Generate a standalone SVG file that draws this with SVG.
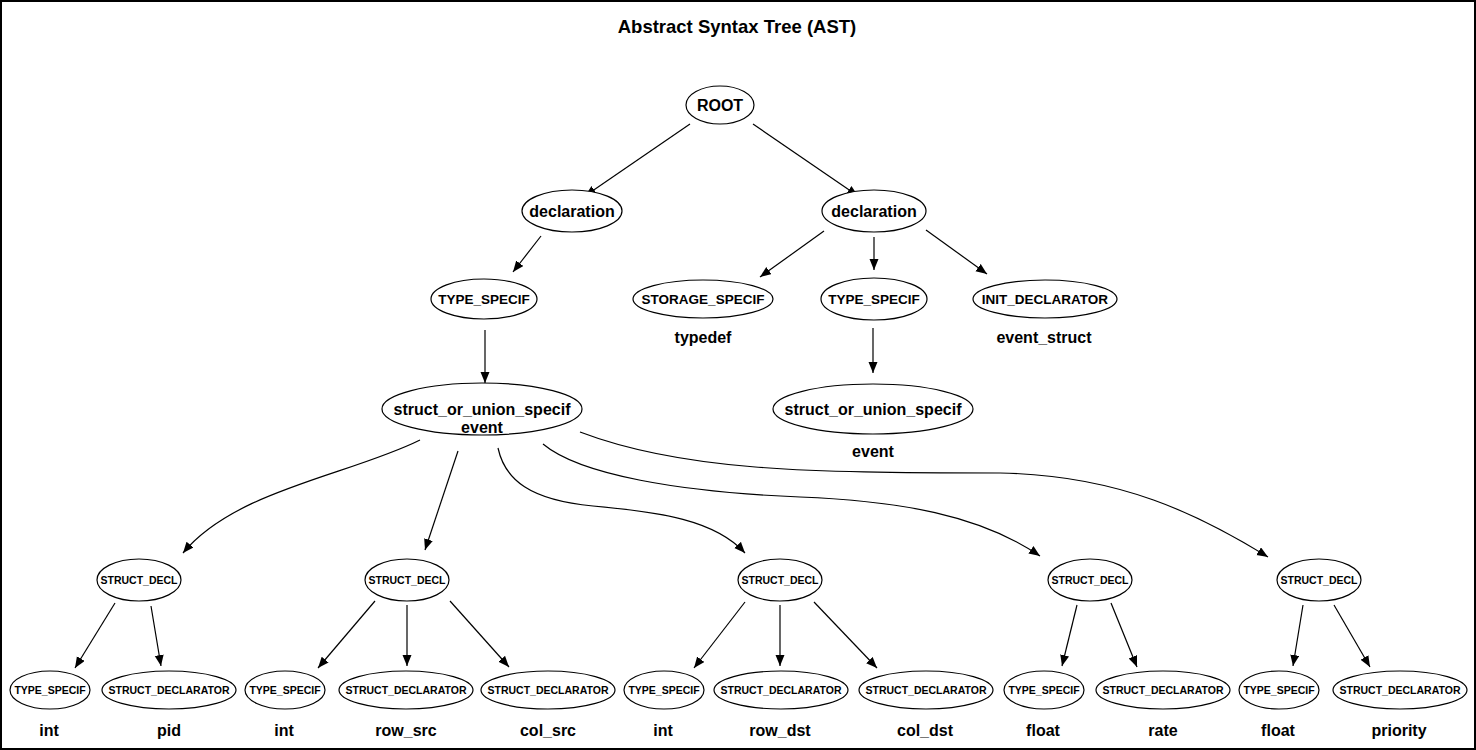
<svg xmlns="http://www.w3.org/2000/svg" width="1476" height="750" viewBox="0 0 1476 750">
  <defs>
    <marker id="arrow" markerUnits="userSpaceOnUse" markerWidth="12" markerHeight="10" refX="11" refY="4.5" orient="auto">
      <path d="M0,0 L11,4.5 L0,9 Z" fill="#000"/>
    </marker>
  </defs>
  <style>
    .node ellipse { fill: #fff; stroke: #000; stroke-width: 1.2; }
    text { font-family: "Liberation Sans", Arial, Helvetica, sans-serif; font-weight: bold; fill: #000; text-anchor: middle; }
    .big { font-size: 16px; }
    .mid { font-size: 13.5px; }
    .small { font-size: 10.5px; }
    .title { font-size: 18.5px; }
    .edges path { fill: none; stroke: #000; stroke-width: 1.2; marker-end: url(#arrow); }
  </style>

  <rect x="1" y="1" width="1474" height="748" fill="#fff" stroke="#000" stroke-width="2"/>
  <text class="title" x="737" y="33">Abstract Syntax Tree (AST)</text>

  <!-- connectors -->
  <g class="edges">
    <path d="M690,124 L585,196"/>
    <path d="M753,124 L858,196"/>
    <path d="M541,236 L513,272"/>
    <path d="M485,330 L485,383"/>
    <path d="M824,231 L760,277"/>
    <path d="M874,237 L874,270"/>
    <path d="M926,230 L987,274"/>
    <path d="M873,328 L873,373"/>

    <path d="M420,440 C350,475 235,490 183,553"/>
    <path d="M458,451 L425,550"/>
    <path d="M498,448 C505,480 530,500 593,506 C660,512 715,520 745,553"/>
    <path d="M543,444 C580,475 680,492 800,497 C900,501 980,515 1040,556"/>
    <path d="M580,432 C680,470 800,473 1000,473 C1120,475 1200,515 1268,557"/>

    <path d="M115,603 L75,668"/>
    <path d="M151,606 L161,666"/>
    <path d="M375,601 L318,668"/>
    <path d="M407,605 L407,666"/>
    <path d="M450,601 L509,667"/>
    <path d="M745,602 L694,668"/>
    <path d="M780,605 L780,666"/>
    <path d="M814,602 L877,668"/>
    <path d="M1077,605 L1062,666"/>
    <path d="M1111,603 L1137,667"/>
    <path d="M1303,605 L1293,666"/>
    <path d="M1334,605 L1370,667"/>
  </g>

  <!-- upper tree -->
  <g id="root" class="node"><ellipse cx="720" cy="105" rx="34" ry="19"/><text class="big" x="720" y="111">ROOT</text></g>
  <g id="decl_left" class="node"><ellipse cx="572" cy="211" rx="50" ry="21"/><text class="big" x="572" y="217">declaration</text></g>
  <g id="decl_right" class="node"><ellipse cx="874" cy="211" rx="52" ry="21"/><text class="big" x="874" y="217">declaration</text></g>
  <g id="type_specif_left" class="node"><ellipse cx="484" cy="299" rx="53" ry="20"/><text class="mid" x="484" y="304">TYPE_SPECIF</text></g>
  <g id="storage_specif" class="node"><ellipse cx="703" cy="299" rx="70" ry="19"/><text class="mid" x="703" y="304">STORAGE_SPECIF</text><text class="big" x="703" y="343">typedef</text></g>
  <g id="type_specif_right" class="node"><ellipse cx="874" cy="299" rx="53" ry="21"/><text class="mid" x="874" y="304">TYPE_SPECIF</text></g>
  <g id="init_declarator" class="node"><ellipse cx="1045" cy="299" rx="72" ry="19"/><text class="mid" x="1045" y="304">INIT_DECLARATOR</text><text class="big" x="1044" y="343">event_struct</text></g>
  <g id="sou_right" class="node"><ellipse cx="873" cy="409" rx="100" ry="25"/><text class="big" x="873" y="415">struct_or_union_specif</text><text class="big" x="873" y="457">event</text></g>
  <g id="sou_left" class="node"><ellipse cx="482" cy="409" rx="100" ry="26"/><text class="big" x="482" y="415">struct_or_union_specif</text><text class="big" x="482" y="433">event</text></g>

  <!-- struct declarations -->
  <g id="struct_decl_1" class="node"><ellipse cx="139" cy="580" rx="42" ry="21"/><text class="small" x="139" y="584">STRUCT_DECL</text></g>
  <g id="struct_decl_2" class="node"><ellipse cx="407" cy="580" rx="42" ry="21"/><text class="small" x="407" y="584">STRUCT_DECL</text></g>
  <g id="struct_decl_3" class="node"><ellipse cx="780" cy="580" rx="42" ry="21"/><text class="small" x="780" y="584">STRUCT_DECL</text></g>
  <g id="struct_decl_4" class="node"><ellipse cx="1090" cy="580" rx="42" ry="21"/><text class="small" x="1090" y="584">STRUCT_DECL</text></g>
  <g id="struct_decl_5" class="node"><ellipse cx="1319" cy="580" rx="42" ry="21"/><text class="small" x="1319" y="584">STRUCT_DECL</text></g>

  <!-- leaves -->
  <g id="ts_1" class="node"><ellipse cx="50" cy="690" rx="40" ry="19"/><text class="small" x="50" y="694">TYPE_SPECIF</text><text class="big" x="49" y="736">int</text></g>
  <g id="sdr_1" class="node"><ellipse cx="169" cy="690" rx="67" ry="19"/><text class="small" x="169" y="694">STRUCT_DECLARATOR</text><text class="big" x="169" y="736">pid</text></g>
  <g id="ts_2" class="node"><ellipse cx="285" cy="690" rx="40" ry="19"/><text class="small" x="285" y="694">TYPE_SPECIF</text><text class="big" x="284" y="736">int</text></g>
  <g id="sdr_2" class="node"><ellipse cx="406" cy="690" rx="67" ry="19"/><text class="small" x="406" y="694">STRUCT_DECLARATOR</text><text class="big" x="406" y="736">row_src</text></g>
  <g id="sdr_3" class="node"><ellipse cx="548" cy="690" rx="67" ry="19"/><text class="small" x="548" y="694">STRUCT_DECLARATOR</text><text class="big" x="548" y="736">col_src</text></g>
  <g id="ts_3" class="node"><ellipse cx="664" cy="690" rx="40" ry="19"/><text class="small" x="664" y="694">TYPE_SPECIF</text><text class="big" x="663" y="736">int</text></g>
  <g id="sdr_4" class="node"><ellipse cx="781" cy="690" rx="67" ry="19"/><text class="small" x="781" y="694">STRUCT_DECLARATOR</text><text class="big" x="780" y="736">row_dst</text></g>
  <g id="sdr_5" class="node"><ellipse cx="926" cy="690" rx="67" ry="19"/><text class="small" x="926" y="694">STRUCT_DECLARATOR</text><text class="big" x="925" y="736">col_dst</text></g>
  <g id="ts_4" class="node"><ellipse cx="1044" cy="690" rx="40" ry="19"/><text class="small" x="1044" y="694">TYPE_SPECIF</text><text class="big" x="1043" y="736">float</text></g>
  <g id="sdr_6" class="node"><ellipse cx="1163" cy="690" rx="67" ry="19"/><text class="small" x="1163" y="694">STRUCT_DECLARATOR</text><text class="big" x="1163" y="736">rate</text></g>
  <g id="ts_5" class="node"><ellipse cx="1279" cy="690" rx="40" ry="19"/><text class="small" x="1279" y="694">TYPE_SPECIF</text><text class="big" x="1278" y="736">float</text></g>
  <g id="sdr_7" class="node"><ellipse cx="1400" cy="690" rx="67" ry="19"/><text class="small" x="1400" y="694">STRUCT_DECLARATOR</text><text class="big" x="1399" y="736">priority</text></g>
</svg>
